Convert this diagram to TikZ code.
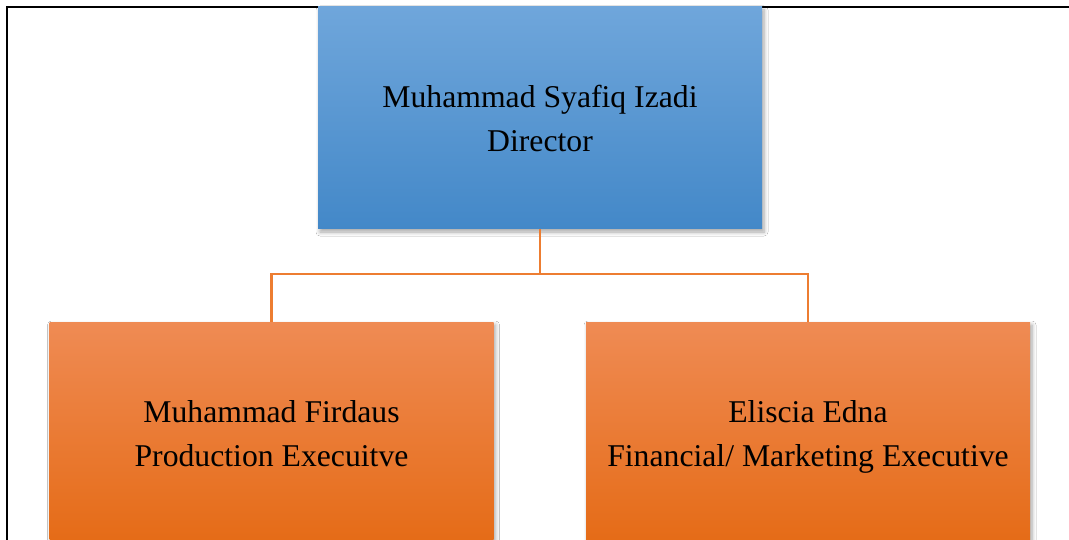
\documentclass[tikz,border=0pt]{standalone}
\usepackage{fontspec}
\setmainfont{Liberation Serif}
\usetikzlibrary{shadows.blur}
\definecolor{bluetop}{RGB}{111,166,219}
\definecolor{bluemid}{RGB}{84,152,216}
\definecolor{bluebot}{RGB}{67,136,200}
\definecolor{ortop}{RGB}{239,139,84}
\definecolor{ormid}{RGB}{248,126,36}
\definecolor{orbot}{RGB}{229,107,22}
\definecolor{linkor}{RGB}{237,125,49}
\newcommand{\topstrut}{\rule{0pt}{36.8pt}}
\tikzset{
  box/.style={rectangle, inner sep=0pt, minimum width=444pt, minimum height=222pt,
    align=center, font=\fontsize{31.7}{44}\selectfont, text=black,
    blur shadow={shadow xshift=2pt, shadow yshift=-3pt, shadow blur steps=6, shadow blur radius=4pt, shadow opacity=35}},
  bluebox/.style={box, top color=bluetop, middle color=bluemid, bottom color=bluebot},
  orbox/.style={box, top color=ortop, middle color=ormid, bottom color=orbot},
  link/.style={draw=linkor, line width=2.3pt}
}
\begin{document}
\begin{tikzpicture}[x=1pt,y=-1pt]
\useasboundingbox (0,0) rectangle (1069,540);
\clip (0,0) rectangle (1069,540);
\fill[white] (0,0) rectangle (1069,540);
\draw[line width=2pt] (7,600) -- (7,7) -- (1100,7);
\node[bluebox] (dir) at (540,118) {\topstrut Muhammad Syafiq Izadi\\\strut Director};
\node[orbox] (prod) at (271.5,433) {\topstrut Muhammad Firdaus\\\strut Production Execuitve};
\node[orbox] (fin) at (808,433) {\topstrut Eliscia Edna\\\strut Financial/ Marketing Executive};
\coordinate (bus) at (540,274);
\draw[link] (dir.south) -- (bus);
\draw[link] (prod.north) |- (bus) -| (fin.north);
\end{tikzpicture}
\end{document}
